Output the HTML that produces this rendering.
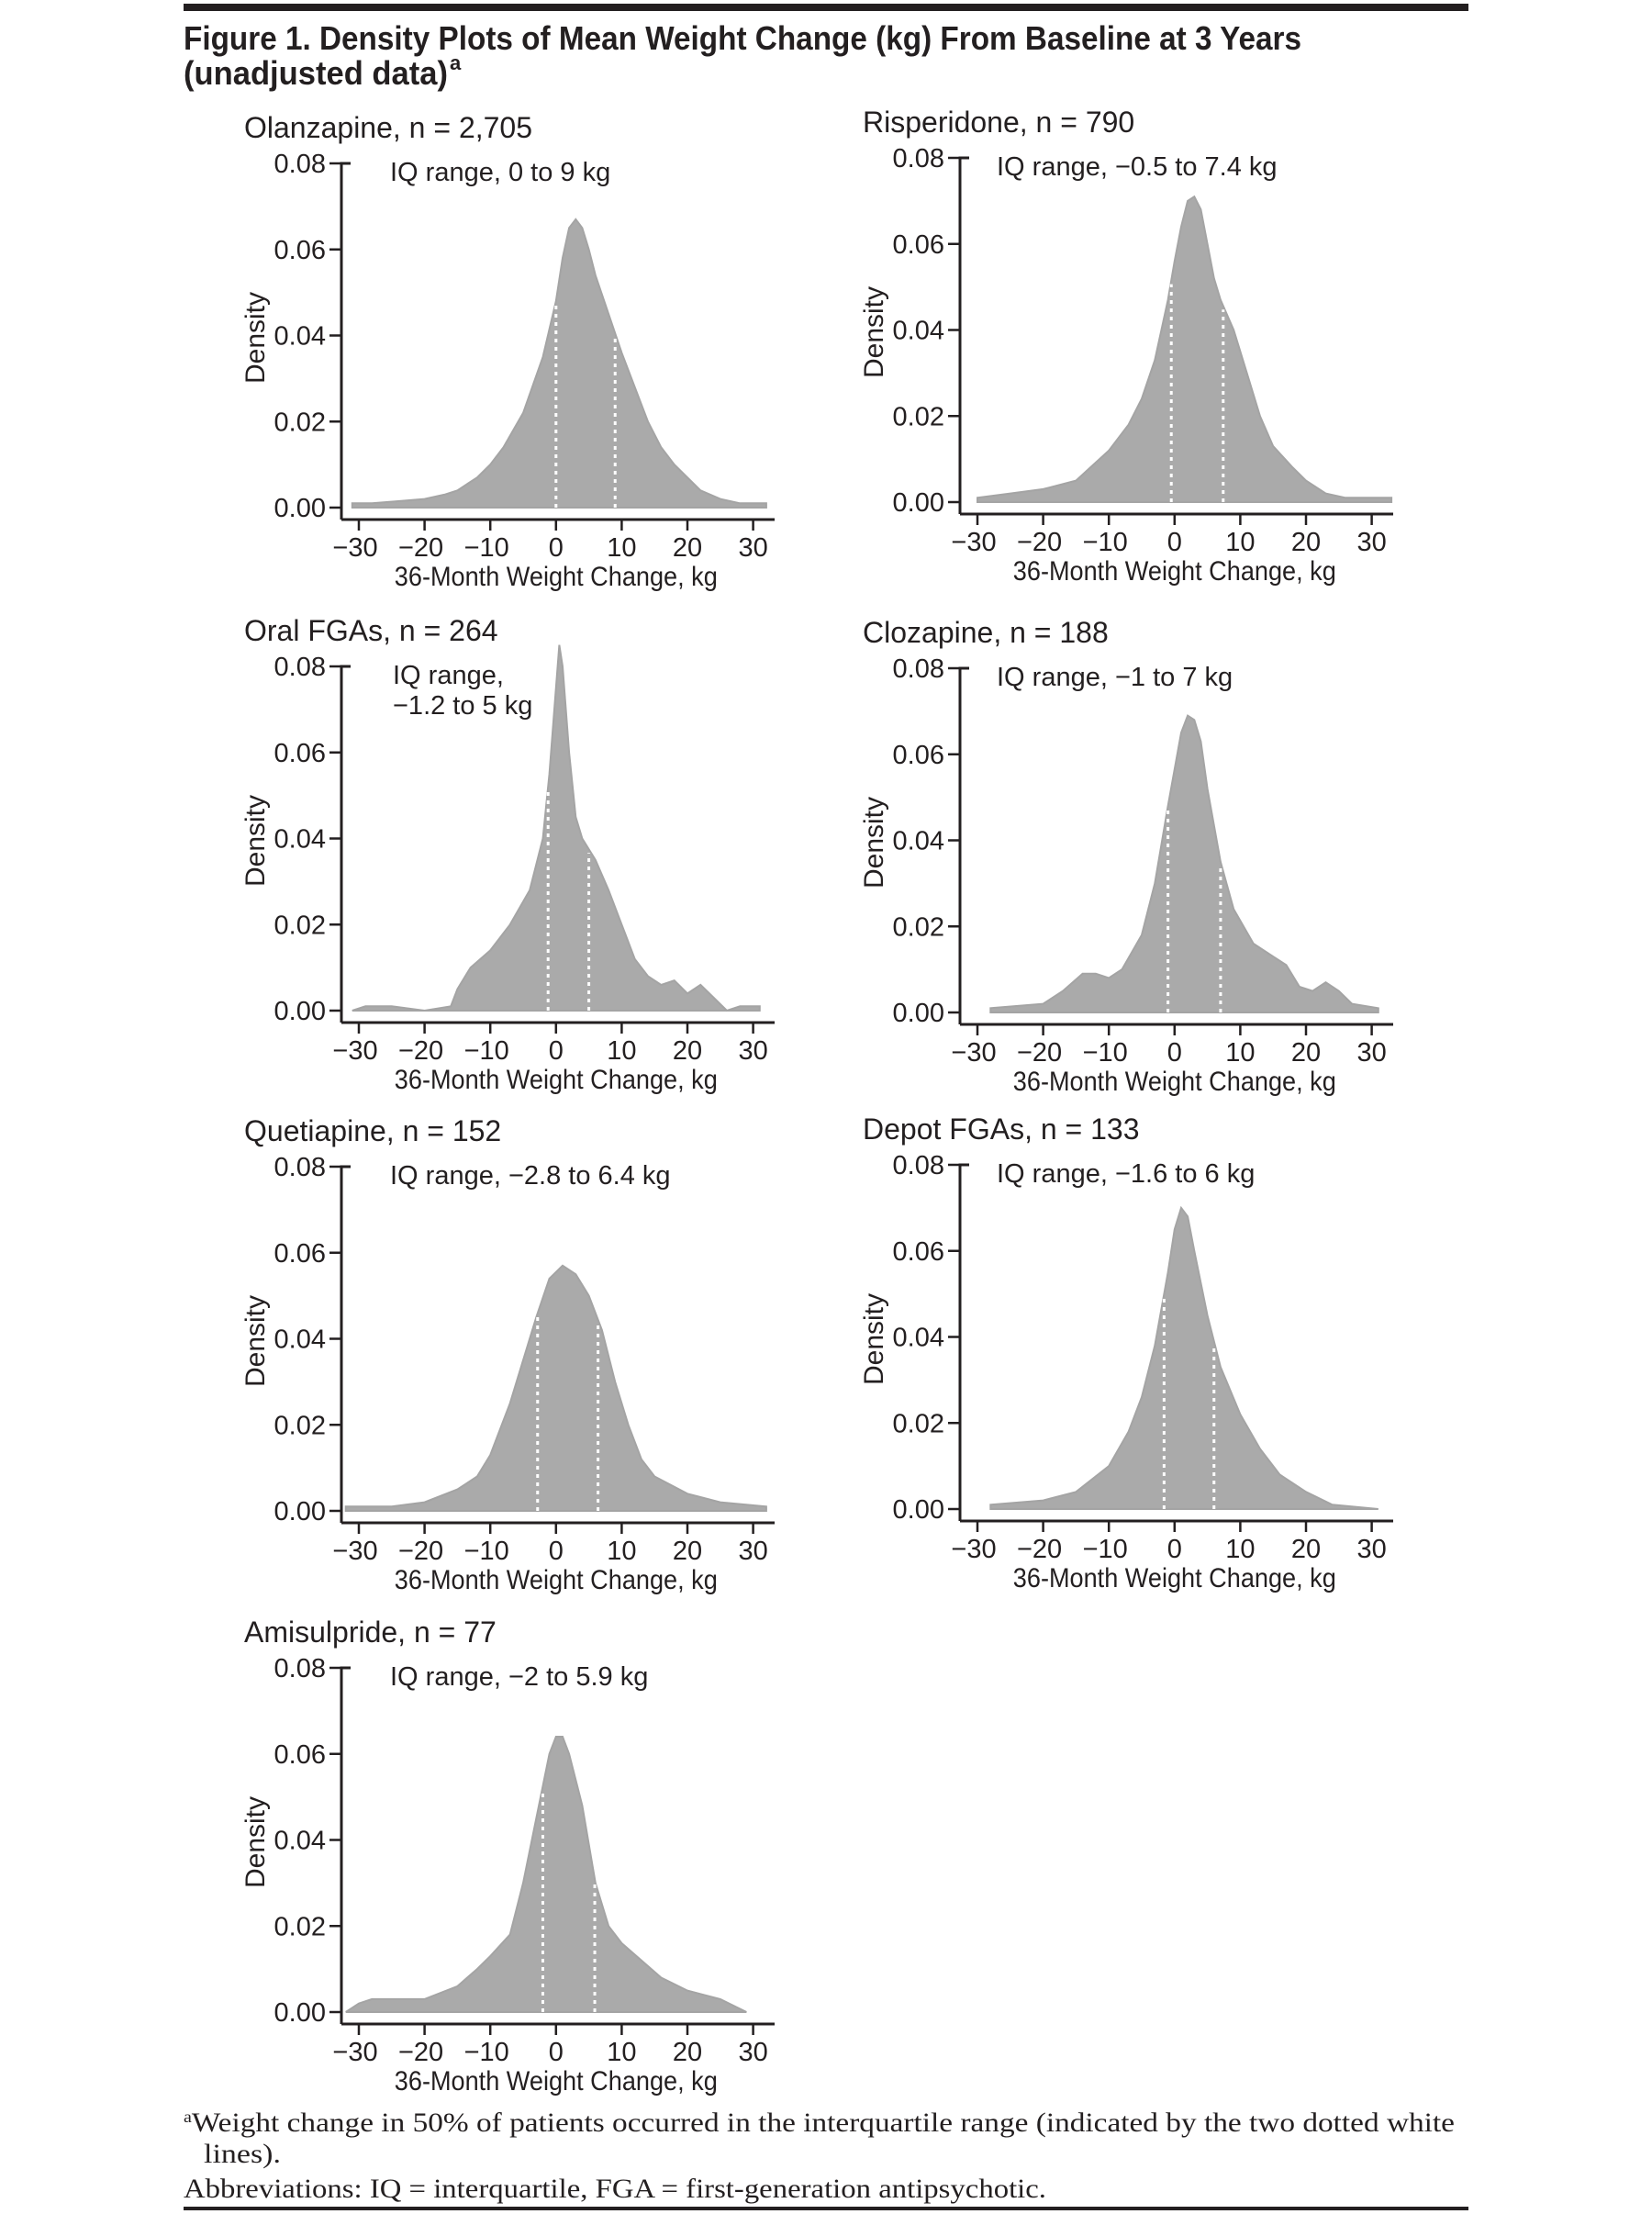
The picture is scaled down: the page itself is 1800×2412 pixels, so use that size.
<!DOCTYPE html>
<html><head><meta charset="utf-8"><style>
html,body{margin:0;padding:0;background:#fff;}
svg{display:block;}
text{fill:#231f20;}
.s{font-family:"Liberation Sans Narrow","Liberation Sans",sans-serif;}
.f{font-family:"Liberation Serif",serif;}
</style></head><body>
<svg id="fig" width="1800" height="2412" viewBox="0 0 1800 2412" xmlns="http://www.w3.org/2000/svg">
<rect x="200" y="4" width="1400" height="8" fill="#231f20"/>
<text class="s" x="200" y="54" font-size="36" font-weight="bold" textLength="1218" lengthAdjust="spacingAndGlyphs">Figure 1. Density Plots of Mean Weight Change (kg) From Baseline at 3 Years</text>
<text class="s" x="200" y="92" font-size="36" font-weight="bold" textLength="288" lengthAdjust="spacingAndGlyphs">(unadjusted data)</text>
<text class="s" x="490" y="76" font-size="22" font-weight="bold">a</text>
<text class="f" x="200" y="2322" font-size="30" textLength="1385" lengthAdjust="spacingAndGlyphs"><tspan font-size="18" dy="-10">a</tspan><tspan dy="10">Weight change in 50% of patients occurred in the interquartile range (indicated by the two dotted white</tspan></text>
<text class="f" x="222" y="2356" font-size="30" textLength="84" lengthAdjust="spacingAndGlyphs">lines).</text>
<text class="f" x="200" y="2394" font-size="30" textLength="940" lengthAdjust="spacingAndGlyphs">Abbreviations: IQ = interquartile, FGA = first-generation antipsychotic.</text>
<rect x="200" y="2404" width="1400" height="4" fill="#231f20"/>
<g id="panels"></g>
</svg>
<script>
// Olanzapine
const olzX = [-31,-28,-24,-20,-17,-15,-12,-10,-8,-5,-2,0,1,2,3,4,5,6,8,10,12,14,16,18,20,22,25,28,32];
const olzY = [0.001,0.001,0.0015,0.002,0.003,0.004,0.007,0.010,0.014,0.022,0.035,0.048,0.058,0.065,0.067,0.065,0.060,0.054,0.045,0.036,0.028,0.020,0.014,0.010,0.007,0.004,0.002,0.001,0.001];
// Risperidone
const rspX = [-30,-25,-20,-15,-10,-7,-5,-3,-1,0,1,2,3,4,5,6,7,9,11,13,15,18,20,23,26,30,33];
const rspY = [0.001,0.002,0.003,0.005,0.012,0.018,0.024,0.033,0.047,0.056,0.064,0.070,0.071,0.068,0.060,0.052,0.047,0.040,0.030,0.020,0.013,0.008,0.005,0.002,0.001,0.001,0.001];
// Oral FGAs
const ofgX = [-31,-29,-25,-20,-16,-15,-13,-10,-7,-4,-2,-1,0,0.5,1,2,3,4,6,8,10,12,14,16,18,20,22,24,26,28,31];
const ofgY = [0.000,0.001,0.001,0.000,0.001,0.005,0.010,0.014,0.020,0.028,0.040,0.055,0.075,0.085,0.080,0.060,0.045,0.040,0.035,0.028,0.020,0.012,0.008,0.006,0.007,0.004,0.006,0.003,0.000,0.001,0.001];
// Clozapine
const clzX = [-28,-20,-17,-14,-12,-10,-8,-5,-3,-1,1,2,3,4,5,7,9,12,15,17,19,21,23,25,27,31];
const clzY = [0.001,0.002,0.005,0.009,0.009,0.008,0.010,0.018,0.030,0.048,0.065,0.069,0.068,0.063,0.052,0.035,0.024,0.016,0.013,0.011,0.006,0.005,0.007,0.005,0.002,0.001];
// Quetiapine
const qtpX = [-32,-25,-20,-15,-12,-10,-7,-5,-3,-1,1,3,5,7,9,11,13,15,20,25,32];
const qtpY = [0.001,0.001,0.002,0.005,0.008,0.013,0.025,0.035,0.045,0.054,0.057,0.055,0.050,0.042,0.030,0.020,0.012,0.008,0.004,0.002,0.001];
// Depot FGAs
const dfgX = [-28,-20,-15,-10,-7,-5,-3,-1,0,1,2,3,5,7,10,13,16,20,24,31];
const dfgY = [0.001,0.002,0.004,0.010,0.018,0.026,0.038,0.055,0.065,0.070,0.068,0.060,0.045,0.033,0.022,0.014,0.008,0.004,0.001,0.000];
// Amisulpride
const amsX = [-32,-30,-28,-20,-15,-12,-10,-7,-5,-3,-1,0,1,2,4,6,8,10,13,16,20,25,29];
const amsY = [0.000,0.002,0.003,0.003,0.006,0.010,0.013,0.018,0.030,0.045,0.060,0.064,0.064,0.060,0.048,0.030,0.020,0.016,0.012,0.008,0.005,0.003,0.000];

const panelNames = ["olanzapine","risperidone","oral-fgas","clozapine","quetiapine","depot-fgas","amisulpride"];
const panelTitles = ["Olanzapine, n = 2,705","Risperidone, n = 790","Oral FGAs, n = 264","Clozapine, n = 188","Quetiapine, n = 152","Depot FGAs, n = 133","Amisulpride, n = 77"];
const panelIQText = [["IQ range, 0 to 9 kg"],["IQ range, \u22120.5 to 7.4 kg"],["IQ range,","\u22121.2 to 5 kg"],["IQ range, \u22121 to 7 kg"],["IQ range, \u22122.8 to 6.4 kg"],["IQ range, \u22121.6 to 6 kg"],["IQ range, \u22122 to 5.9 kg"]];
const panelIQLow = [0,-0.5,-1.2,-1,-2.8,-1.6,-2];
const panelIQHigh = [9,7.4,5,7,6.4,6,5.9];
const panelXs = [olzX,rspX,ofgX,clzX,qtpX,dfgX,amsX];
const panelYs = [olzY,rspY,ofgY,clzY,qtpY,dfgY,amsY];
const yTicks = [0,0.02,0.04,0.06,0.08];
const yTickLabels = ["0.00","0.02","0.04","0.06","0.08"];
const xTicks = [-30,-20,-10,0,10,20,30];
const xTickLabels = ["\u221230","\u221220","\u221210","0","10","20","30"];

const layout = [[372,178],[1046,172],[372,726],[1046,728],[372,1271],[1046,1269],[372,1817]];
const NS="http://www.w3.org/2000/svg";
const root=document.getElementById('panels');
function mk(tag,attrs,parent,txt){const e=document.createElementNS(NS,tag);for(const k in attrs)e.setAttribute(k,attrs[k]);if(txt!==undefined)e.textContent=txt;parent.appendChild(e);return e;}

layout.forEach((L,i)=>{
  const ox=L[0], oy=L[1];
  const H=375, zeroY=oy+H, axisY=zeroY+13;
  const kg=71.6, x0=ox+19+30*kg/10;
  const sx=v=>x0+v*kg/10, sy=v=>zeroY-v/0.08*H;
  const g=mk('g',{},root);
  
  
  const t=mk('text',{x:ox-106,y:oy-28,'font-size':32,class:'s'},g,panelTitles[i]);
  
  
  const xs=panelXs[i], ys=panelYs[i];
  let d='M'+sx(xs[0])+','+zeroY;
  xs.forEach((x,j)=>{d+=' L'+sx(x).toFixed(1)+','+sy(ys[j]).toFixed(1);});
  d+=' L'+sx(xs[xs.length-1])+','+zeroY+' Z';
  const p=mk('path',{d:d,fill:'#aaaaaa',stroke:'#a4a4a4','stroke-width':2},g);
  
  
  [panelIQLow[i],panelIQHigh[i]].forEach((v,k)=>{
    let yv=0;for(let j=0;j<xs.length-1;j++){if(v>=xs[j]&&v<=xs[j+1]){yv=ys[j]+(ys[j+1]-ys[j])*(v-xs[j])/(xs[j+1]-xs[j]);}}
    const l=mk('line',{x1:sx(v),x2:sx(v),y1:zeroY,y2:sy(yv)+4,stroke:'#fff','stroke-width':3,'stroke-dasharray':'4 5'},g);
    
    
  });
  const ya=mk('path',{d:`M${ox+10},${oy} H${ox} V${axisY}`,fill:'none',stroke:'#231f20','stroke-width':3},g);
  
  
  const xa=mk('line',{x1:ox,x2:ox+472,y1:axisY,y2:axisY,stroke:'#231f20','stroke-width':3},g);
  
  
  yTicks.forEach((v,k)=>{
    mk('line',{x1:ox-13,x2:ox,y1:sy(v),y2:sy(v),stroke:'#231f20','stroke-width':2.5},g);
    const tl=mk('text',{x:ox-17,y:sy(v)+10,'font-size':29,'text-anchor':'end',class:'s'},g,yTickLabels[k]);
    
    
  });
  xTicks.forEach((v,k)=>{
    mk('line',{x1:sx(v),x2:sx(v),y1:axisY,y2:axisY+12,stroke:'#231f20','stroke-width':2.5},g);
    const tl=mk('text',{x:sx(v)-(v<0?4:0),y:axisY+40,'font-size':29,'text-anchor':'middle',class:'s'},g,xTickLabels[k]);
    
    
  });
  const xl=mk('text',{x:sx(0),y:axisY+72,'font-size':30,'text-anchor':'middle',class:'s',textLength:352,lengthAdjust:'spacingAndGlyphs'},g,'36-Month Weight Change, kg');
  
  
  const yl=mk('text',{x:0,y:0,'font-size':30,'text-anchor':'middle',class:'s',transform:`translate(${ox-84},${oy+190}) rotate(-90)`},g,'Density');
  
  
  panelIQText[i].forEach((s,k)=>{
    const it=mk('text',{x:ox+(panelIQText[i].length>1?56:(i%2?40:53)),y:oy+19+k*33,'font-size':29,class:'s'},g,s);
    
    
  });
});
</script>
</body></html>
